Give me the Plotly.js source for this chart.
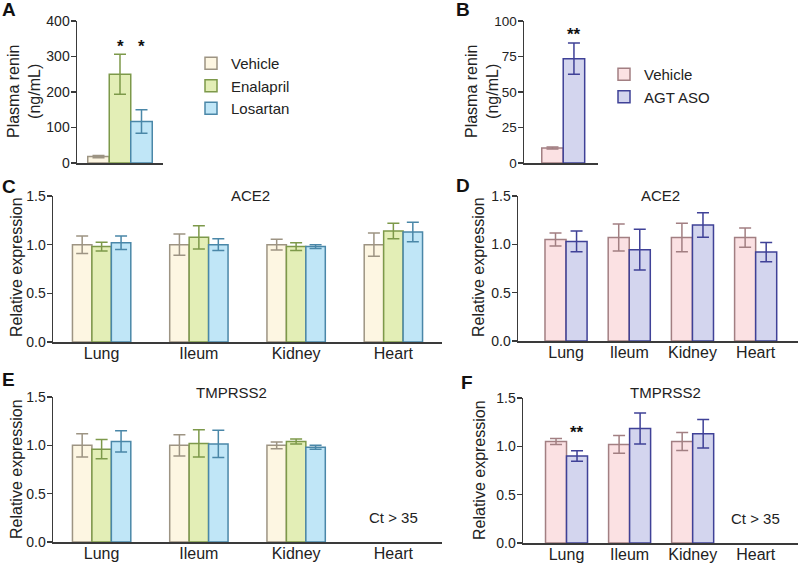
<!DOCTYPE html>
<html>
<head>
<meta charset="utf-8">
<script src="https://cdn.plot.ly/plotly-3.0.1.min.js"></script>
<style>html,body{margin:0;padding:0;background:#fff;}#chart{width:800px;height:563px;}</style>
</head>
<body>
<div id="chart"></div>
<script>
// ---------- data ----------
const tissues = ["Lung", "Ileum", "Kidney", "Heart"];
const reninCat = ["Plasma renin"];

// Panel A: plasma renin (ng/mL)
const reninVehicleA = [18];      const reninVehicleAErr = [3];
const reninEnalapril = [250];    const reninEnalaprilErr = [56];
const reninLosartan = [117];     const reninLosartanErr = [33];

// Panel B: plasma renin (ng/mL)
const reninVehicleB = [10.5];    const reninVehicleBErr = [0.7];
const reninAgtAso = [73.5];      const reninAgtAsoErr = [11];

// Panel C: ACE2, Vehicle / Enalapril / Losartan
const aceVehC = [1.00, 1.00, 1.00, 1.00];   const aceVehCErr = [0.09, 0.11, 0.055, 0.12];
const aceEnaC = [0.98, 1.075, 0.98, 1.14];  const aceEnaCErr = [0.045, 0.12, 0.04, 0.08];
const aceLosC = [1.02, 1.00, 0.98, 1.13];   const aceLosCErr = [0.07, 0.06, 0.02, 0.10];

// Panel D: ACE2, Vehicle / AGT ASO
const aceVehD = [1.05, 1.07, 1.07, 1.07];   const aceVehDErr = [0.067, 0.14, 0.147, 0.10];
const aceAgtD = [1.03, 0.945, 1.20, 0.92];  const aceAgtDErr = [0.107, 0.21, 0.128, 0.10];

// Panel E: TMPRSS2, Vehicle / Enalapril / Losartan (Heart: Ct > 35)
const tmpVehE = [1.00, 1.00, 1.00, null];   const tmpVehEErr = [0.12, 0.11, 0.035, null];
const tmpEnaE = [0.96, 1.02, 1.04, null];   const tmpEnaEErr = [0.10, 0.14, 0.025, null];
const tmpLosE = [1.04, 1.015, 0.98, null];  const tmpLosEErr = [0.11, 0.14, 0.02, null];

// Panel F: TMPRSS2, Vehicle / AGT ASO (Heart: Ct > 35)
const tmpVehF = [1.05, 1.02, 1.05, null];   const tmpVehFErr = [0.03, 0.092, 0.094, null];
const tmpAgtF = [0.90, 1.185, 1.13, null];  const tmpAgtFErr = [0.055, 0.16, 0.147, null];

// ---------- styles ----------
const FONT = "Liberation Sans, Arial, Helvetica, sans-serif";
const TXT = "#222";
const AX = "#3a3a3a";
const S = {
  veh:  {fill: "#fdf6e2", line: "#9d9483"},
  ena:  {fill: "#e3eeb6", line: "#7d994a"},
  los:  {fill: "#c0e6f7", line: "#4a87a8"},
  vehP: {fill: "#fbe1e3", line: "#a27f82"},
  agt:  {fill: "#d3d5ee", line: "#3f4197"}
};

function bar(x, y, err, st, name, xa, ya, offset, width, legend, show) {
  return {
    type: "bar", x: x, y: y, name: name, xaxis: xa, yaxis: ya,
    offset: offset, width: width,
    marker: {color: st.fill, line: {color: st.line, width: 1.5}},
    error_y: {type: "data", array: err, visible: true, color: st.line, thickness: 1.5, width: 6},
    showlegend: !!show, legend: legend || "legend",
    hoverinfo: "skip"
  };
}

const w3 = 0.2, w2 = 0.333;
const traces = [
  // A
  bar(reninCat, reninVehicleA, reninVehicleAErr, S.veh, "Vehicle", "x", "y", -0.375, 0.25, "legend", true),
  bar(reninCat, reninEnalapril, reninEnalaprilErr, S.ena, "Enalapril", "x", "y", -0.125, 0.25, "legend", true),
  bar(reninCat, reninLosartan, reninLosartanErr, S.los, "Losartan", "x", "y", 0.125, 0.25, "legend", true),
  // B
  bar(reninCat, reninVehicleB, reninVehicleBErr, S.vehP, "Vehicle", "x2", "y2", -0.29, 0.29, "legend2", true),
  bar(reninCat, reninAgtAso, reninAgtAsoErr, S.agt, "AGT ASO", "x2", "y2", 0, 0.29, "legend2", true),
  // C
  bar(tissues, aceVehC, aceVehCErr, S.veh, "Vehicle", "x3", "y3", -0.3, w3),
  bar(tissues, aceEnaC, aceEnaCErr, S.ena, "Enalapril", "x3", "y3", -0.1, w3),
  bar(tissues, aceLosC, aceLosCErr, S.los, "Losartan", "x3", "y3", 0.1, w3),
  // D
  bar(tissues, aceVehD, aceVehDErr, S.vehP, "Vehicle", "x4", "y4", -w2, w2),
  bar(tissues, aceAgtD, aceAgtDErr, S.agt, "AGT ASO", "x4", "y4", 0, w2),
  // E
  bar(tissues, tmpVehE, tmpVehEErr, S.veh, "Vehicle", "x5", "y5", -0.3, w3),
  bar(tissues, tmpEnaE, tmpEnaEErr, S.ena, "Enalapril", "x5", "y5", -0.1, w3),
  bar(tissues, tmpLosE, tmpLosEErr, S.los, "Losartan", "x5", "y5", 0.1, w3),
  // F
  bar(tissues, tmpVehF, tmpVehFErr, S.vehP, "Vehicle", "x6", "y6", -w2, w2),
  bar(tissues, tmpAgtF, tmpAgtFErr, S.agt, "AGT ASO", "x6", "y6", 0, w2)
];

const W = 800, H = 563;
const px = v => v / W, py = v => 1 - v / H;

function xax(d0, d1, anchor, range, showLabels) {
  return {
    domain: [px(d0), px(d1)], anchor: anchor, type: "category", range: range,
    showline: true, linecolor: AX, linewidth: 1.5, ticks: "", showgrid: false, zeroline: false,
    showticklabels: showLabels, tickfont: {family: FONT, size: 16, color: TXT},
    ticklabelstandoff: -4, fixedrange: true
  };
}
function yax(top, bottom, anchor, range, dtick, fmt, fsize) {
  return {
    domain: [py(bottom), py(top)], anchor: anchor, range: range, dtick: dtick, tickformat: fmt,
    showline: true, linecolor: AX, linewidth: 1.5, ticks: "outside", ticklen: 5, tickwidth: 1.5, tickcolor: AX,
    showgrid: false, zeroline: false, tickfont: {family: FONT, size: fsize, color: TXT},
    ticklabelstandoff: -2, fixedrange: true
  };
}

const layout = {
  width: W, height: H, margin: {l: 0, r: 0, t: 0, b: 0},
  paper_bgcolor: "#fff", plot_bgcolor: "rgba(0,0,0,0)",
  font: {family: FONT, color: TXT},
  barmode: "group",
  xaxis:  xax(77, 163, "y", [-0.5, 0.5], false),
  yaxis:  yax(21, 163, "x", [0, 400], 100, "d", 14),
  xaxis2: xax(524, 598, "y2", [-0.53, 0.47], false),
  yaxis2: yax(21, 163, "x2", [0, 100], 25, "d", 13.5),
  xaxis3: xax(53, 442, "y3", [-0.5, 3.5], true),
  yaxis3: yax(196, 342, "x3", [0, 1.5], 0.5, ".1f", 14),
  xaxis4: xax(518, 798, "y4", [-0.76, 3.67], true),
  yaxis4: yax(196, 341, "x4", [0, 1.5], 0.5, ".1f", 14),
  xaxis5: xax(53, 442, "y5", [-0.5, 3.5], true),
  yaxis5: yax(397, 542, "x5", [0, 1.5], 0.5, ".1f", 14),
  xaxis6: xax(523, 798, "y6", [-0.69, 3.67], true),
  yaxis6: yax(398, 543, "x6", [0, 1.5], 0.5, ".1f", 14),
  legend: {
    x: px(191), y: py(47), xanchor: "left", yanchor: "top",
    bgcolor: "rgba(0,0,0,0)", font: {family: FONT, size: 15, color: TXT},
    tracegroupgap: 0, itemwidth: 30, traceorder: "normal"
  },
  legend2: {
    x: px(604), y: py(58), xanchor: "left", yanchor: "top",
    bgcolor: "rgba(0,0,0,0)", font: {family: FONT, size: 15, color: TXT},
    tracegroupgap: 0, itemwidth: 30, traceorder: "normal"
  },
  annotations: []
};

const ann = layout.annotations;
function label(t, x, y) {
  ann.push({text: "<b>" + t + "</b>", xref: "paper", yref: "paper", x: px(x), y: py(y),
    xanchor: "left", yanchor: "middle", showarrow: false, font: {family: FONT, size: 19, color: "#111"}});
}
label("A", 0, 9); label("B", 454, 9); label("C", 0, 186); label("D", 454, 185); label("E", 0, 379); label("F", 459, 382);

function ytitle(t, x, y) {
  ann.push({text: t, xref: "paper", yref: "paper", x: px(x), y: py(y), textangle: -90,
    xanchor: "center", yanchor: "middle", showarrow: false, font: {family: FONT, size: 16, color: TXT}});
}
ytitle("Plasma renin<br>(ng/mL)", 24, 92);
ytitle("Plasma renin<br>(ng/mL)", 482, 92);
ytitle("Relative expression", 16, 267);
ytitle("Relative expression", 478, 267);
ytitle("Relative expression", 16, 469);
ytitle("Relative expression", 479, 470);

function ptitle(t, x, y) {
  ann.push({text: t, xref: "paper", yref: "paper", x: px(x), y: py(y),
    xanchor: "center", yanchor: "middle", showarrow: false, font: {family: FONT, size: 15, color: TXT}});
}
ptitle("ACE2", 250, 196); ptitle("ACE2", 660, 196); ptitle("TMPRSS2", 232, 392); ptitle("TMPRSS2", 665, 392);

function star(t, xa, ya, xcat, yval, xshift, yshift) {
  ann.push({text: "<b>" + t + "</b>", xref: xa, yref: ya, x: xcat, y: yval, xshift: xshift, yshift: yshift,
    xanchor: "center", yanchor: "bottom", showarrow: false, font: {family: FONT, size: 17, color: "#111"}});
}
star("*", "x", "y", reninCat[0], reninEnalapril[0] + reninEnalaprilErr[0], 0, -4);
star("*", "x", "y", reninCat[0], reninEnalapril[0] + reninEnalaprilErr[0], 21.7, -4);
star("**", "x2", "y2", reninCat[0], reninAgtAso[0] + reninAgtAsoErr[0], 10.7, -3);
star("**", "x6", "y6", tissues[0], tmpAgtF[0] + tmpAgtFErr[0], 10.5, 7);

function ct(xa, ya) {
  ann.push({text: "Ct > 35", xref: xa, yref: ya, x: tissues[3], y: 0.25,
    xanchor: "center", yanchor: "middle", showarrow: false, font: {family: FONT, size: 15, color: TXT}});
}
ct("x5", "y5"); ct("x6", "y6");

Plotly.newPlot("chart", traces, layout, {staticPlot: true, displayModeBar: false});
</script>
</body>
</html>
